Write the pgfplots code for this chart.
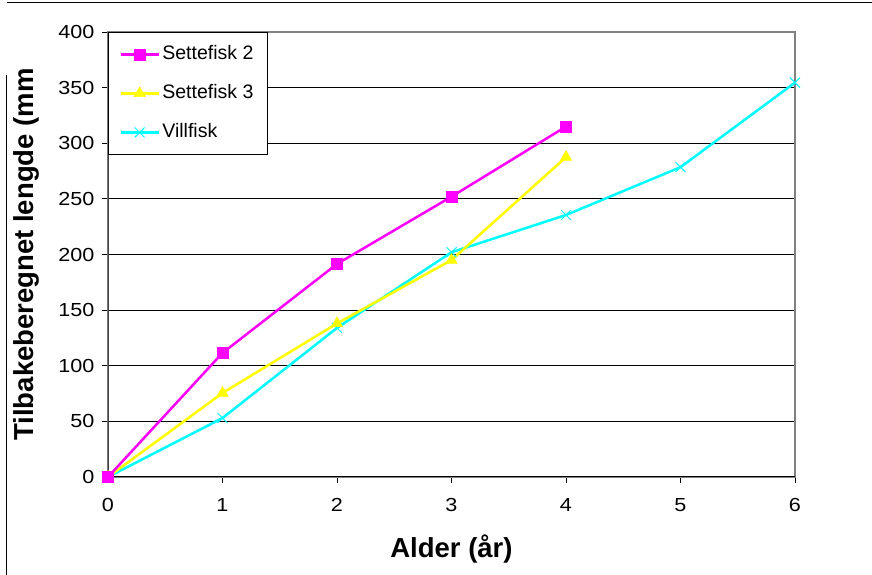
\documentclass[border=0pt]{standalone}
\usepackage{graphicx}
\usepackage{pgfplots}
\pgfplotsset{compat=1.18}
\usepackage{fontspec}
\setmainfont{Liberation Sans}
\definecolor{cmag}{RGB}{255,0,255}
\definecolor{cyel}{RGB}{255,255,0}
\definecolor{ccya}{RGB}{0,255,255}
\newcommand{\tk}[1]{\scalebox{1.2}[1.05]{\fontsize{18}{20}\selectfont #1}}
\begin{document}
\begin{tikzpicture}[x=1pt,y=1pt]
\useasboundingbox (0,0) rectangle (872,575);
\draw[black, line width=1pt] (7,572) -- (872,572);
\draw[black, line width=1pt] (6.5,0) -- (6.5,500);
\begin{axis}[
  at={(108pt,98pt)}, anchor=south west,
  scale only axis, width=687pt, height=445pt,
  xmin=0, xmax=6, ymin=0, ymax=400,
  xtick={0,1,2,3,4,5,6},
  ytick={0,50,...,400},
  xticklabels={\tk{0},\tk{1},\tk{2},\tk{3},\tk{4},\tk{5},\tk{6}},
  yticklabels={\tk{0},\tk{50},\tk{100},\tk{150},\tk{200},\tk{250},\tk{300},\tk{350},\tk{400}},
  tick align=outside, major tick length=6pt,
  xtick pos=left, ytick pos=left,
  tick style={black, line width=0.8pt},
  axis line style={draw=gray, line width=2pt},
  ymajorgrids, grid style={black, line width=0.9pt},
  yticklabel style={anchor=east, xshift=-4pt},
  xticklabel style={anchor=north, yshift=-12pt},
  xlabel={Alder (år)},
  xlabel style={font=\fontsize{27.5}{30}\selectfont\bfseries, at={(axis description cs:0.5,-0.182)}, anchor=base},
  ylabel={Tilbakeberegnet lengde (mm},
  ylabel style={font=\fontsize{27.5}{30}\selectfont\bfseries, at={(axis description cs:-0.118,0.5)}, anchor=center, rotate=0},
  legend style={at={(0,1)}, anchor=north west, draw=black, line width=0.8pt, fill=white,
    font=\fontsize{19.5}{21}\selectfont, inner xsep=11pt, inner ysep=12pt, row sep=19pt,
    nodes={text height=14pt, text depth=4pt, inner ysep=1pt, inner xsep=2.5pt}},
  legend cell align=left,
  legend image code/.code={\draw[mark repeat=2,mark phase=2] plot coordinates {(0pt,0pt) (19pt,0pt) (38pt,0pt)};},
]
\addplot[ccya, line width=2.5pt, mark=x, mark size=7pt, mark options={line width=1pt}, forget plot] coordinates {(0,0) (1,53) (2,134) (3,202) (4,235.5) (5,278.5) (6,354.5)};
\addplot[cyel, line width=2.5pt, mark=triangle*, mark size=6.5pt, mark options={line width=0.5pt}, forget plot] coordinates {(0,0) (1,75.5) (2,138) (3,195) (4,287.5)};
\addplot[cmag, line width=2.5pt, mark=square*, mark size=5.5pt, mark options={line width=0.5pt}, forget plot] coordinates {(0,0) (1,111.5) (2,191.5) (3,252) (4,315)};
\draw[black, line width=1.2pt] (rel axis cs:0,0) -- (rel axis cs:1,0);
\draw[black!75, line width=1.2pt] (rel axis cs:0,0) -- (rel axis cs:0,1);
\addlegendimage{cmag, line width=2.5pt, mark=square*, mark size=5.5pt, mark options={line width=0.5pt}}
\addlegendentry{Settefisk 2}
\addlegendimage{cyel, line width=2.5pt, mark=triangle*, mark size=6.5pt, mark options={line width=0.5pt}}
\addlegendentry{Settefisk 3}
\addlegendimage{ccya, line width=2.5pt, mark=x, mark size=7pt, mark options={line width=1pt}}
\addlegendentry{Villfisk}
\end{axis}
\end{tikzpicture}
\end{document}
